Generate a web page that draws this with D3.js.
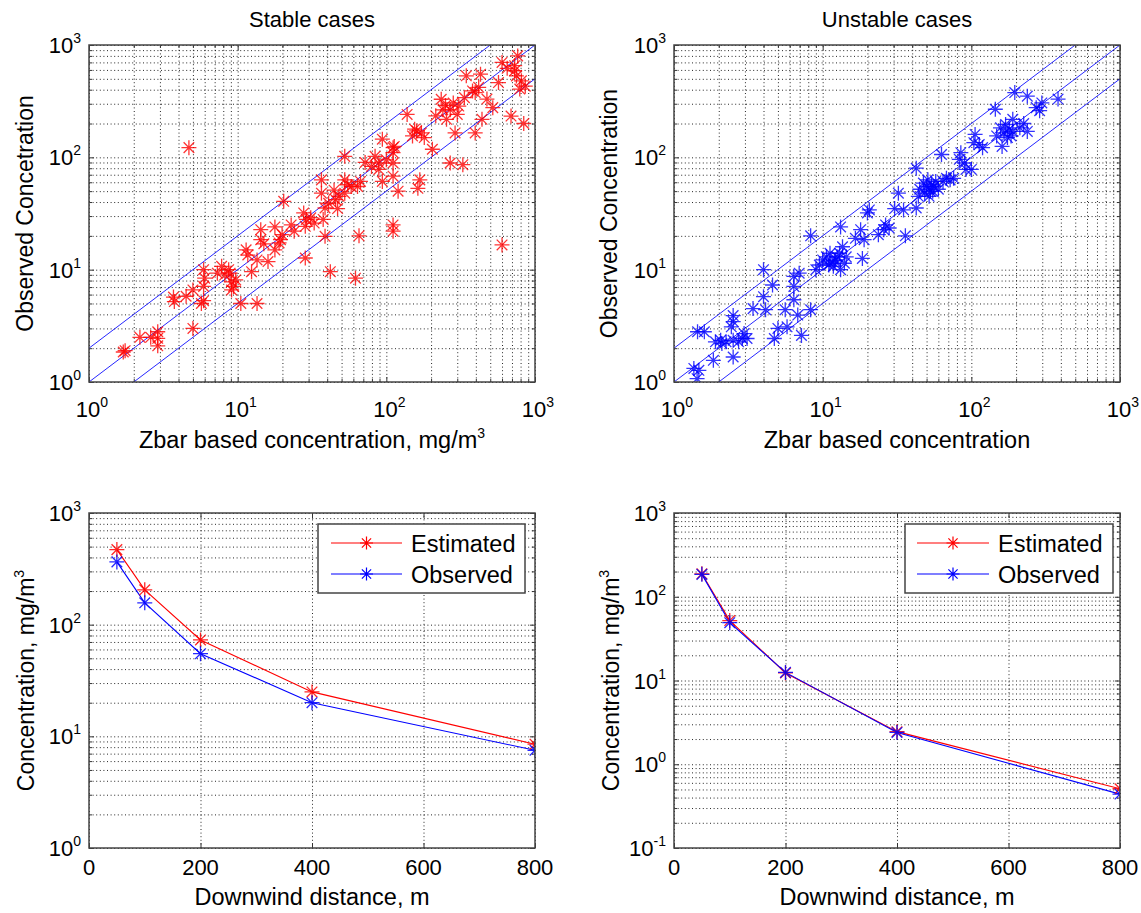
<!DOCTYPE html>
<html><head><meta charset="utf-8">
<script src="https://cdn.jsdelivr.net/npm/d3@7"></script>
<style>
body{margin:0;background:#fff}
svg{display:block}
text{font-family:"Liberation Sans",Arial,Helvetica,sans-serif;fill:#000}
</style>
</head><body>
<svg id="chart" width="1141" height="913"></svg>
<script>
// ---------------- DATA ----------------
const stableX = [1.75,1.7,2.2,2.6,2.9,2.9,2.9,5,3.7,3.75,4.5,5.0,5.7,5.9,5.9,6.0,5.9,7.3,7.8,8.7,8.9,9.1,9.7,9.4,9.1,10.5,13.5,12.4,13.5,11.4,11.7,14.3,14.3,16,17.8,17.8,19.0,19.4,19.9,20.4,22.9,27.8,28.5,28.5,29,31,32.7,36.6,36.6,37.6,38.7,38.7,40.9,42,44.5,47,45.6,52.5,52.5,52.5,55,62,65.5,64,67,79.5,84,89,94,94,89,111,111,111,111,111,111,120,113,138,150,155,160,168,163,172,204,215,234,240,254,269,269,282,290,300,307,327,335,345,396,396,418,430,440,475,520,568,600,600,690,730,730,750,765,790,840,810,860,4.7,8.2,15,24,48,58,72,100,180,250,380,650];
const stableY = [1.9,1.85,2.5,2.5,2.8,2.45,2.1,3,5.7,5.2,5.8,6.6,5,5.3,7.1,8.4,10,9.3,10.7,10,9.3,7.8,8.1,7.1,6.6,5,5,9.6,12.2,15,13.5,18.5,22.7,11.8,15,24,17.3,18.5,20.5,40.6,25,32,12.7,24.3,28,29,26,48,63,28,19.8,35.4,39,9.6,51,35,42,63,102,48,57,8.4,20,55,61,83,102,89,145,61,78,122,110,89,68,25,22,50,125,241,155,178,172,63,53,165,118,234,329,265,218,89,265,305,165,241,286,86,340,532,165,377,420,550,218,330,277,463,16.6,700,233,655,590,530,800,405,200,480,430,122,9,17,22,45,55,90,95,150,290,390,620];
const unstableX = [1.36,1.43,1.47,1.44,1.6,1.84,1.9,2.06,2.1,2.24,2.5,2.5,2.5,2.43,2.5,2.72,2.88,2.96,3.1,3.4,4.0,4.0,4.13,4.6,4.73,5,5.6,5.76,6.4,6.4,6.4,6.8,6.95,7.2,8.3,8.3,9.0,9.5,10,10.6,11.2,11.2,11.8,12.2,12.5,13.2,13.2,13.6,14,14.4,16.6,18,18.5,19,20,20.6,23.7,25.8,26.5,28,30.5,32.3,35,36,42.6,42.6,44,45,47.6,48.6,50,51,53,54,56,57.6,63,64.5,68,72,76,83,85,90,92,100,106,104,113,119,145,148,157,161,166,170,180,185,190,196,212,225,238,238,273,288,298,383,11,12,13,52,55,60,175,190];
const unstableY = [1.32,1.07,1.27,2.8,2.8,1.56,2.28,2.35,2.2,2.28,1.67,3.9,3.45,3.1,2.35,2.28,2.44,2.7,2.44,4.5,10,5.75,4.4,7.3,2.44,3.0,4.4,3.1,5.4,7.1,8.7,3.94,9.3,2.6,4.4,20,10,11,12.2,13,11.4,14,10.7,12.2,13,10,24,16,11.4,13,19,22.7,12.6,18.5,32,34,20.5,22.7,25,23.5,35,48,34,20,80,35.4,45,52,59,48,55,63,50,57,55,61,106,61,65,63,65,96,110,89,78,78,160,135,130,122,268,155,183,125,165,196,178,155,218,377,183,200,350,170,277,260,305,330,11,12,14,45,50,52,150,170];

const distance = [50, 100, 200, 400, 800];
const stableEstimated = [470, 205, 73, 25, 8.5];
const stableObserved  = [365, 157, 55, 20, 7.5];
const unstableEstimated = [188, 52, 12.3, 2.45, 0.51];
const unstableObserved  = [185, 49, 12.5, 2.4, 0.44];

const refRatios = [2, 1, 0.5];          // y = 2x, y = x, y = x/2
const refXRange = [0.5, 2000];

const logTickExpTop = ["0","1","2","3"];
const logTickExpBL  = ["0","1","2","3"];
const logTickExpBR  = ["-1","0","1","2","3"];
const linTicks = [0, 200, 400, 600, 800];

const seriesNames = ["Estimated", "Observed"];
const RED = "#ff0000", BLUE = "#0000ff";

// ---------------- HELPERS ----------------
const svg = d3.select("#chart");
const TICKF = 22, SUPF = 14, LABF = 23, XLABF = 23.5, LEGF = 23.5, TITF = 22;

function logTicks(lo, hi) {
  const maj = [], min = [];
  const e0 = Math.round(Math.log10(lo)), e1 = Math.round(Math.log10(hi));
  for (let e = e0; e <= e1; e++) {
    const b = Math.pow(10, e);
    maj.push(b);
    if (e < e1) for (let k = 2; k <= 9; k++) min.push(k * b);
  }
  return {maj, min};
}

function starPath(r) {
  const a = r * 0.7071;
  return `M${-r},0L${r},0M0,${-r}L0,${r}M${-a},${-a}L${a},${a}M${-a},${a}L${a},${-a}`;
}

let clipId = 0;
function makePanel(box, xs, ys, cfg) {
  const w = box.x1 - box.x0, h = box.y1 - box.y0;
  const g = svg.append("g").attr("transform", `translate(${box.x0},${box.y0})`);
  const id = "clip" + (clipId++);
  g.append("clipPath").attr("id", id).append("rect").attr("width", w).attr("height", h);

  const gridStyle = sel => {
    sel.select(".domain").remove();
    sel.selectAll("line").attr("stroke", "#000").attr("stroke-width", 1)
      .attr("stroke-dasharray", "1,2.6").attr("opacity", 0.85);
    sel.selectAll("text").remove();
  };
  g.append("g").attr("transform", `translate(0,${h})`)
    .call(d3.axisBottom(xs).tickValues(cfg.xGrid).tickSize(-h).tickFormat(""))
    .call(gridStyle);
  g.append("g")
    .call(d3.axisLeft(ys).tickValues(cfg.yGrid).tickSize(-w).tickFormat(""))
    .call(gridStyle);

  const tickStyle = sel => {
    sel.select(".domain").remove();
    sel.selectAll("line").attr("stroke", "#333").attr("stroke-width", 1);
    sel.selectAll("text").remove();
  };
  [[cfg.xMaj, 5], [cfg.xMin, 3]].forEach(([vals, len]) => {
    if (!vals.length) return;
    g.append("g").attr("transform", `translate(0,${h})`)
      .call(d3.axisBottom(xs).tickValues(vals).tickSize(-len)).call(tickStyle);
    g.append("g").call(d3.axisTop(xs).tickValues(vals).tickSize(-len)).call(tickStyle);
  });
  [[cfg.yMaj, 5], [cfg.yMin, 3]].forEach(([vals, len]) => {
    if (!vals.length) return;
    g.append("g").call(d3.axisLeft(ys).tickValues(vals).tickSize(-len)).call(tickStyle);
    g.append("g").attr("transform", `translate(${w},0)`)
      .call(d3.axisRight(ys).tickValues(vals).tickSize(-len)).call(tickStyle);
  });

  const plot = g.append("g").attr("clip-path", `url(#${id})`);
  return {g, plot, w, h, id};
}

function frame(p) {
  p.g.append("rect").attr("width", p.w).attr("height", p.h)
    .attr("fill", "none").attr("stroke", "#444").attr("stroke-width", 1.5);
}

function supLabel(g, x, y, base, exp, anchor) {
  const t = g.append("text").attr("x", x).attr("y", y).attr("text-anchor", anchor)
    .style("font-size", TICKF + "px");
  t.append("tspan").text(base);
  t.append("tspan").attr("dy", -10).style("font-size", SUPF + "px").text(exp);
  return t;
}

function logYLabels(p, ys, maj, exps) {
  maj.forEach((v, i) => supLabel(p.g, -8, ys(v) + 8, "10", exps[i], "end"));
}
function logXLabels(p, xs, maj, exps) {
  maj.forEach((v, i) => supLabel(p.g, xs(v) + 3, p.h + 35, "10", exps[i], "middle"));
}
function linXLabels(p, xs, vals) {
  vals.forEach(v => p.g.append("text").attr("x", xs(v)).attr("y", p.h + 27)
    .attr("text-anchor", "middle").style("font-size", TICKF + "px").text(v));
}

function richText(t, parts) {
  parts.forEach(([s, sup]) => {
    const ts = t.append("tspan").text(s);
    if (sup) ts.attr("dy", -10).style("font-size", SUPF + "px");
  });
}
function yTitle(p, x, parts) {
  const t = p.g.append("text")
    .attr("transform", `translate(${x},${p.h / 2}) rotate(-90)`)
    .attr("text-anchor", "middle").style("font-size", LABF + "px");
  richText(t, parts);
}
function xTitle(p, y, parts) {
  const t = p.g.append("text").attr("x", p.w / 2).attr("y", y)
    .attr("text-anchor", "middle").style("font-size", XLABF + "px");
  richText(t, parts);
}

// ---------------- SCATTER PANELS ----------------
function scatterPanel(box, xv, yv, color, title, ylab, xlabParts) {
  const xs = d3.scaleLog().domain([1, 1000]).range([0, box.x1 - box.x0]);
  const ys = d3.scaleLog().domain([1, 1000]).range([box.y1 - box.y0, 0]);
  const lt = logTicks(1, 1000);
  const p = makePanel(box, xs, ys, {
    xGrid: lt.maj.concat(lt.min), yGrid: lt.maj.concat(lt.min),
    xMaj: lt.maj, xMin: lt.min, yMaj: lt.maj, yMin: lt.min
  });
  const line = d3.line().x(d => xs(d[0])).y(d => ys(d[1]));
  refRatios.forEach(r => {
    p.plot.append("path").datum(refXRange.map(x => [x, x * r]))
      .attr("d", line).attr("fill", "none").attr("stroke", BLUE).attr("stroke-width", 1)
      .attr("opacity", 0.85);
  });
  p.plot.append("g").selectAll("path").data(xv.map((x, i) => [x, yv[i]])).join("path")
    .attr("transform", d => `translate(${xs(d[0])},${ys(d[1])})`)
    .attr("d", starPath(7.5)).attr("fill", "none").attr("stroke", color)
    .attr("stroke-width", 1.3).attr("opacity", 0.8);
  frame(p);
  logYLabels(p, ys, lt.maj, logTickExpTop);
  logXLabels(p, xs, lt.maj, logTickExpTop);
  p.g.append("text").attr("x", p.w / 2).attr("y", -18).attr("text-anchor", "middle")
    .style("font-size", TITF + "px").text(title);
  yTitle(p, box.ylabX - box.x0, [[ylab]]);
  xTitle(p, p.h + 66, xlabParts);
  return p;
}

scatterPanel({x0: 89, x1: 535, y0: 45, y1: 382, ylabX: 33}, stableX, stableY, RED,
  "Stable cases", "Observed Concetration",
  [["Zbar based concentration, mg/m"], ["3", true]]);
scatterPanel({x0: 674, x1: 1120, y0: 45, y1: 382, ylabX: 617}, unstableX, unstableY, BLUE,
  "Unstable cases", "Observed Concentration",
  [["Zbar based concentration"]]);

// ---------------- LINE PANELS ----------------
function linePanel(box, yDomain, est, obs, exps, legendBox) {
  const xs = d3.scaleLinear().domain([0, 800]).range([0, box.x1 - box.x0]);
  const ys = d3.scaleLog().domain(yDomain).range([box.y1 - box.y0, 0]);
  const lt = logTicks(yDomain[0], yDomain[1]);
  const p = makePanel(box, xs, ys, {
    xGrid: linTicks, yGrid: lt.maj.concat(lt.min),
    xMaj: linTicks, xMin: [], yMaj: lt.maj, yMin: lt.min
  });
  const line = d3.line().x((d, i) => xs(distance[i])).y(d => ys(d));
  [[est, RED], [obs, BLUE]].forEach(([vals, c]) => {
    p.plot.append("path").datum(vals).attr("d", line).attr("fill", "none")
      .attr("stroke", c).attr("stroke-width", 1.1);
  });
  [[est, RED], [obs, BLUE]].forEach(([vals, c]) => {
    p.plot.append("g").selectAll("path").data(vals).join("path")
      .attr("transform", (d, i) => `translate(${xs(distance[i])},${ys(d)})`)
      .attr("d", starPath(7.5)).attr("fill", "none").attr("stroke", c)
      .attr("stroke-width", 1.3).attr("opacity", 0.85);
  });
  frame(p);
  logYLabels(p, ys, lt.maj, exps);
  linXLabels(p, xs, linTicks);
  yTitle(p, box.ylabX - box.x0, [["Concentration, mg/m"], ["3", true]]);
  xTitle(p, p.h + 57, [["Downwind distance, m"]]);

  const lg = svg.append("g").attr("transform", `translate(${legendBox.x},${legendBox.y})`);
  lg.append("rect").attr("width", legendBox.w).attr("height", legendBox.h)
    .attr("fill", "#fff").attr("stroke", "#444").attr("stroke-width", 1.5);
  [[RED, 19], [BLUE, 50]].forEach(([c, yy], i) => {
    lg.append("line").attr("x1", legendBox.lx0).attr("x2", legendBox.lx1)
      .attr("y1", yy).attr("y2", yy).attr("stroke", c).attr("stroke-width", 1.1);
    lg.append("path").attr("transform", `translate(${(legendBox.lx0 + legendBox.lx1) / 2},${yy})`)
      .attr("d", starPath(6.5)).attr("fill", "none").attr("stroke", c).attr("stroke-width", 1.2);
    lg.append("text").attr("x", legendBox.tx).attr("y", yy + 8.5)
      .style("font-size", LEGF + "px").text(seriesNames[i]);
  });
  return p;
}

linePanel({x0: 89, x1: 535, y0: 513, y1: 848, ylabX: 34}, [1, 1000],
  stableEstimated, stableObserved, logTickExpBL,
  {x: 318, y: 524, w: 207, h: 69, lx0: 13, lx1: 84, tx: 93});
linePanel({x0: 674, x1: 1120, y0: 513, y1: 848, ylabX: 619}, [0.1, 1000],
  unstableEstimated, unstableObserved, logTickExpBR,
  {x: 905, y: 524, w: 208, h: 69, lx0: 12, lx1: 84, tx: 93});
</script>
</body></html>
